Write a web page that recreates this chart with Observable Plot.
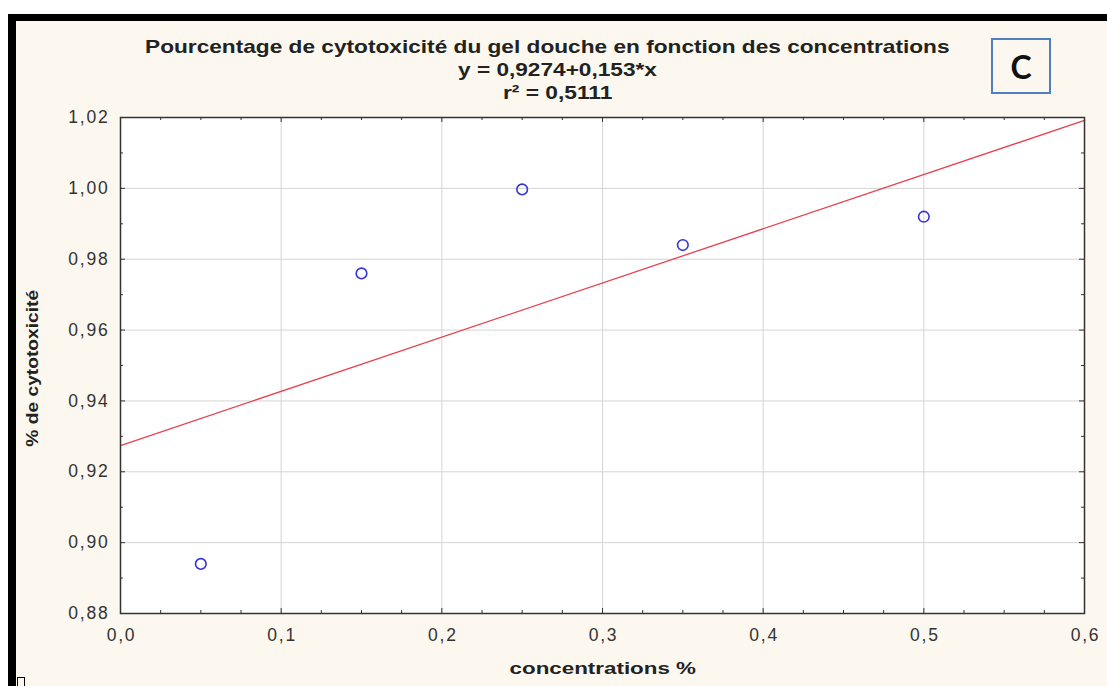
<!DOCTYPE html>
<html><head><meta charset="utf-8">
<script src="https://cdn.jsdelivr.net/npm/d3@7"></script>
<script src="https://cdn.jsdelivr.net/npm/@observablehq/plot@0.6"></script>
<style>
body{margin:0;background:#fff;}
#wrap{position:relative;width:1107px;height:686px;overflow:hidden;background:#fcf8ef;font-family:"Liberation Sans",Arial,sans-serif;color:#222;}
#wrap svg{position:absolute;left:0;top:0;}
.t{position:absolute;white-space:nowrap;font-weight:bold;line-height:1;}
.bar{position:absolute;background:#000;}
.wh{position:absolute;background:#fff;}
#cbox{position:absolute;left:991px;top:38px;width:56px;height:52px;border:2px solid #4f7fbf;background:#fcf8ef;display:flex;align-items:center;justify-content:center;font-family:Lato,"Open Sans",sans-serif;font-weight:bold;font-size:32px;color:#111;}
#sq{position:absolute;left:17px;top:677px;width:6px;height:12px;border:1px solid #000;}
</style></head><body><div id="wrap"></div>
<script>
// Data
const concentrations = [0.05, 0.15, 0.25, 0.35, 0.5];
const cytotoxicity = [0.894, 0.976, 0.9997, 0.984, 0.992];
const intercept = 0.9274;
const slope = 0.153;
const fitX = [0, 0.6];
const xTicks = [0, 0.1, 0.2, 0.3, 0.4, 0.5, 0.6];
const yTicks = [0.88, 0.90, 0.92, 0.94, 0.96, 0.98, 1.00, 1.02];
const xMinor = [0.025,0.05,0.075,0.125,0.15,0.175,0.225,0.25,0.275,0.325,0.35,0.375,0.425,0.45,0.475,0.525,0.55,0.575];
const yMinor = [0.89, 0.91, 0.93, 0.95, 0.97, 0.99, 1.01];
const titleText = "Pourcentage de cytotoxicité du gel douche en fonction des concentrations";
const eqText = "y = 0,9274+0,153*x";
const r2Text = "r² = 0,5111";
const xLabel = "concentrations %";
const yLabel = "% de cytotoxicité";

const points = concentrations.map((c, i) => ({x: c, y: cytotoxicity[i]}));
const fit = fitX.map(x => ({x, y: intercept + slope * x}));

const W = 1107, H = 686, mL = 120, mR = 23, mT = 117, mB = 73;
const fw = W - mL - mR, fh = H - mT - mB;
const comma = (f) => (d) => d3.format(f)(d).replace(".", ",");
const tk = "#333";

const chart = Plot.plot({
  width: W, height: H,
  marginLeft: mL, marginRight: mR, marginTop: mT, marginBottom: mB,
  style: {fontFamily: "'Liberation Sans', Arial, sans-serif", background: "transparent", color: "#333", letterSpacing: "1.8px"},
  x: {domain: [0, 0.6]},
  y: {domain: [0.88, 1.02]},
  marks: [
    Plot.frame({fill: "white", stroke: null}),
    Plot.gridX(xTicks.slice(1, -1), {stroke: "#d4d4d4", strokeOpacity: 1}),
    Plot.gridY(yTicks.slice(1, -1), {stroke: "#d4d4d4", strokeOpacity: 1}),
    Plot.line(fit, {x: "x", y: "y", stroke: "#e8404e", strokeWidth: 1.3}),
    Plot.dot(points, {x: "x", y: "y", r: 5.3, stroke: "#3434dc", strokeWidth: 1.6, fill: "none"}),
    // inward ticks, bottom/top
    Plot.tickX(xTicks, {x: d => d, stroke: tk, insetTop: fh - 5}),
    Plot.tickX(xTicks, {x: d => d, stroke: tk, insetBottom: fh - 5}),
    Plot.tickX(xMinor, {x: d => d, stroke: tk, insetTop: fh - 3}),
    Plot.tickX(xMinor, {x: d => d, stroke: tk, insetBottom: fh - 3}),
    // inward ticks, left/right
    Plot.tickY(yTicks, {y: d => d, stroke: tk, insetRight: fw - 5}),
    Plot.tickY(yTicks, {y: d => d, stroke: tk, insetLeft: fw - 5}),
    Plot.tickY(yMinor, {y: d => d, stroke: tk, insetRight: fw - 3}),
    Plot.tickY(yMinor, {y: d => d, stroke: tk, insetLeft: fw - 3}),
    Plot.frame({stroke: "#333", strokeWidth: 1.5}),
    Plot.axisX(xTicks, {tickSize: 0, tickPadding: 15, tickFormat: comma(".1f"), fontSize: 17.5, label: null, dx: 1}),
    Plot.axisY(yTicks, {tickSize: 0, tickPadding: 11, tickFormat: comma(".2f"), fontSize: 17.5, label: null})
  ]
});

const wrap = document.getElementById("wrap");
wrap.appendChild(chart);

// text placed by centre, stretched to the measured width of the reference
function addText(txt, cx, cy, size, width, rotate) {
  const d = document.createElement("div");
  d.className = "t";
  d.textContent = txt;
  d.style.fontSize = size + "px";
  wrap.appendChild(d);
  const w = d.offsetWidth, h = d.offsetHeight;
  const s = width / w;
  d.style.left = (cx - w / 2) + "px";
  d.style.top = (cy - h / 2) + "px";
  d.style.transformOrigin = "50% 50%";
  d.style.transform = (rotate ? "rotate(-90deg) " : "") + "scaleX(" + s + ")";
  return d;
}
addText(titleText, 547.5, 46, 19, 805);
addText(eqText, 557.5, 69, 19, 199);
addText(r2Text, 557.5, 92, 19, 109);
addText(xLabel, 603, 668, 16.5, 187);
addText(yLabel, 32, 368, 16.5, 157, true);

const cb = document.createElement("div");
cb.id = "cbox"; cb.textContent = "C";
wrap.appendChild(cb);

// photo frame edges
[["wh",0,0,W,14],["wh",0,0,8,H],["bar",8,14,W-8,7],["bar",8,14,8,H-14]].forEach(([c,x,y,w,h]) => {
  const d = document.createElement("div");
  d.className = c;
  Object.assign(d.style, {left: x+"px", top: y+"px", width: w+"px", height: h+"px"});
  wrap.appendChild(d);
});
const sq = document.createElement("div");
sq.id = "sq";
wrap.appendChild(sq);
</script>
</body></html>
